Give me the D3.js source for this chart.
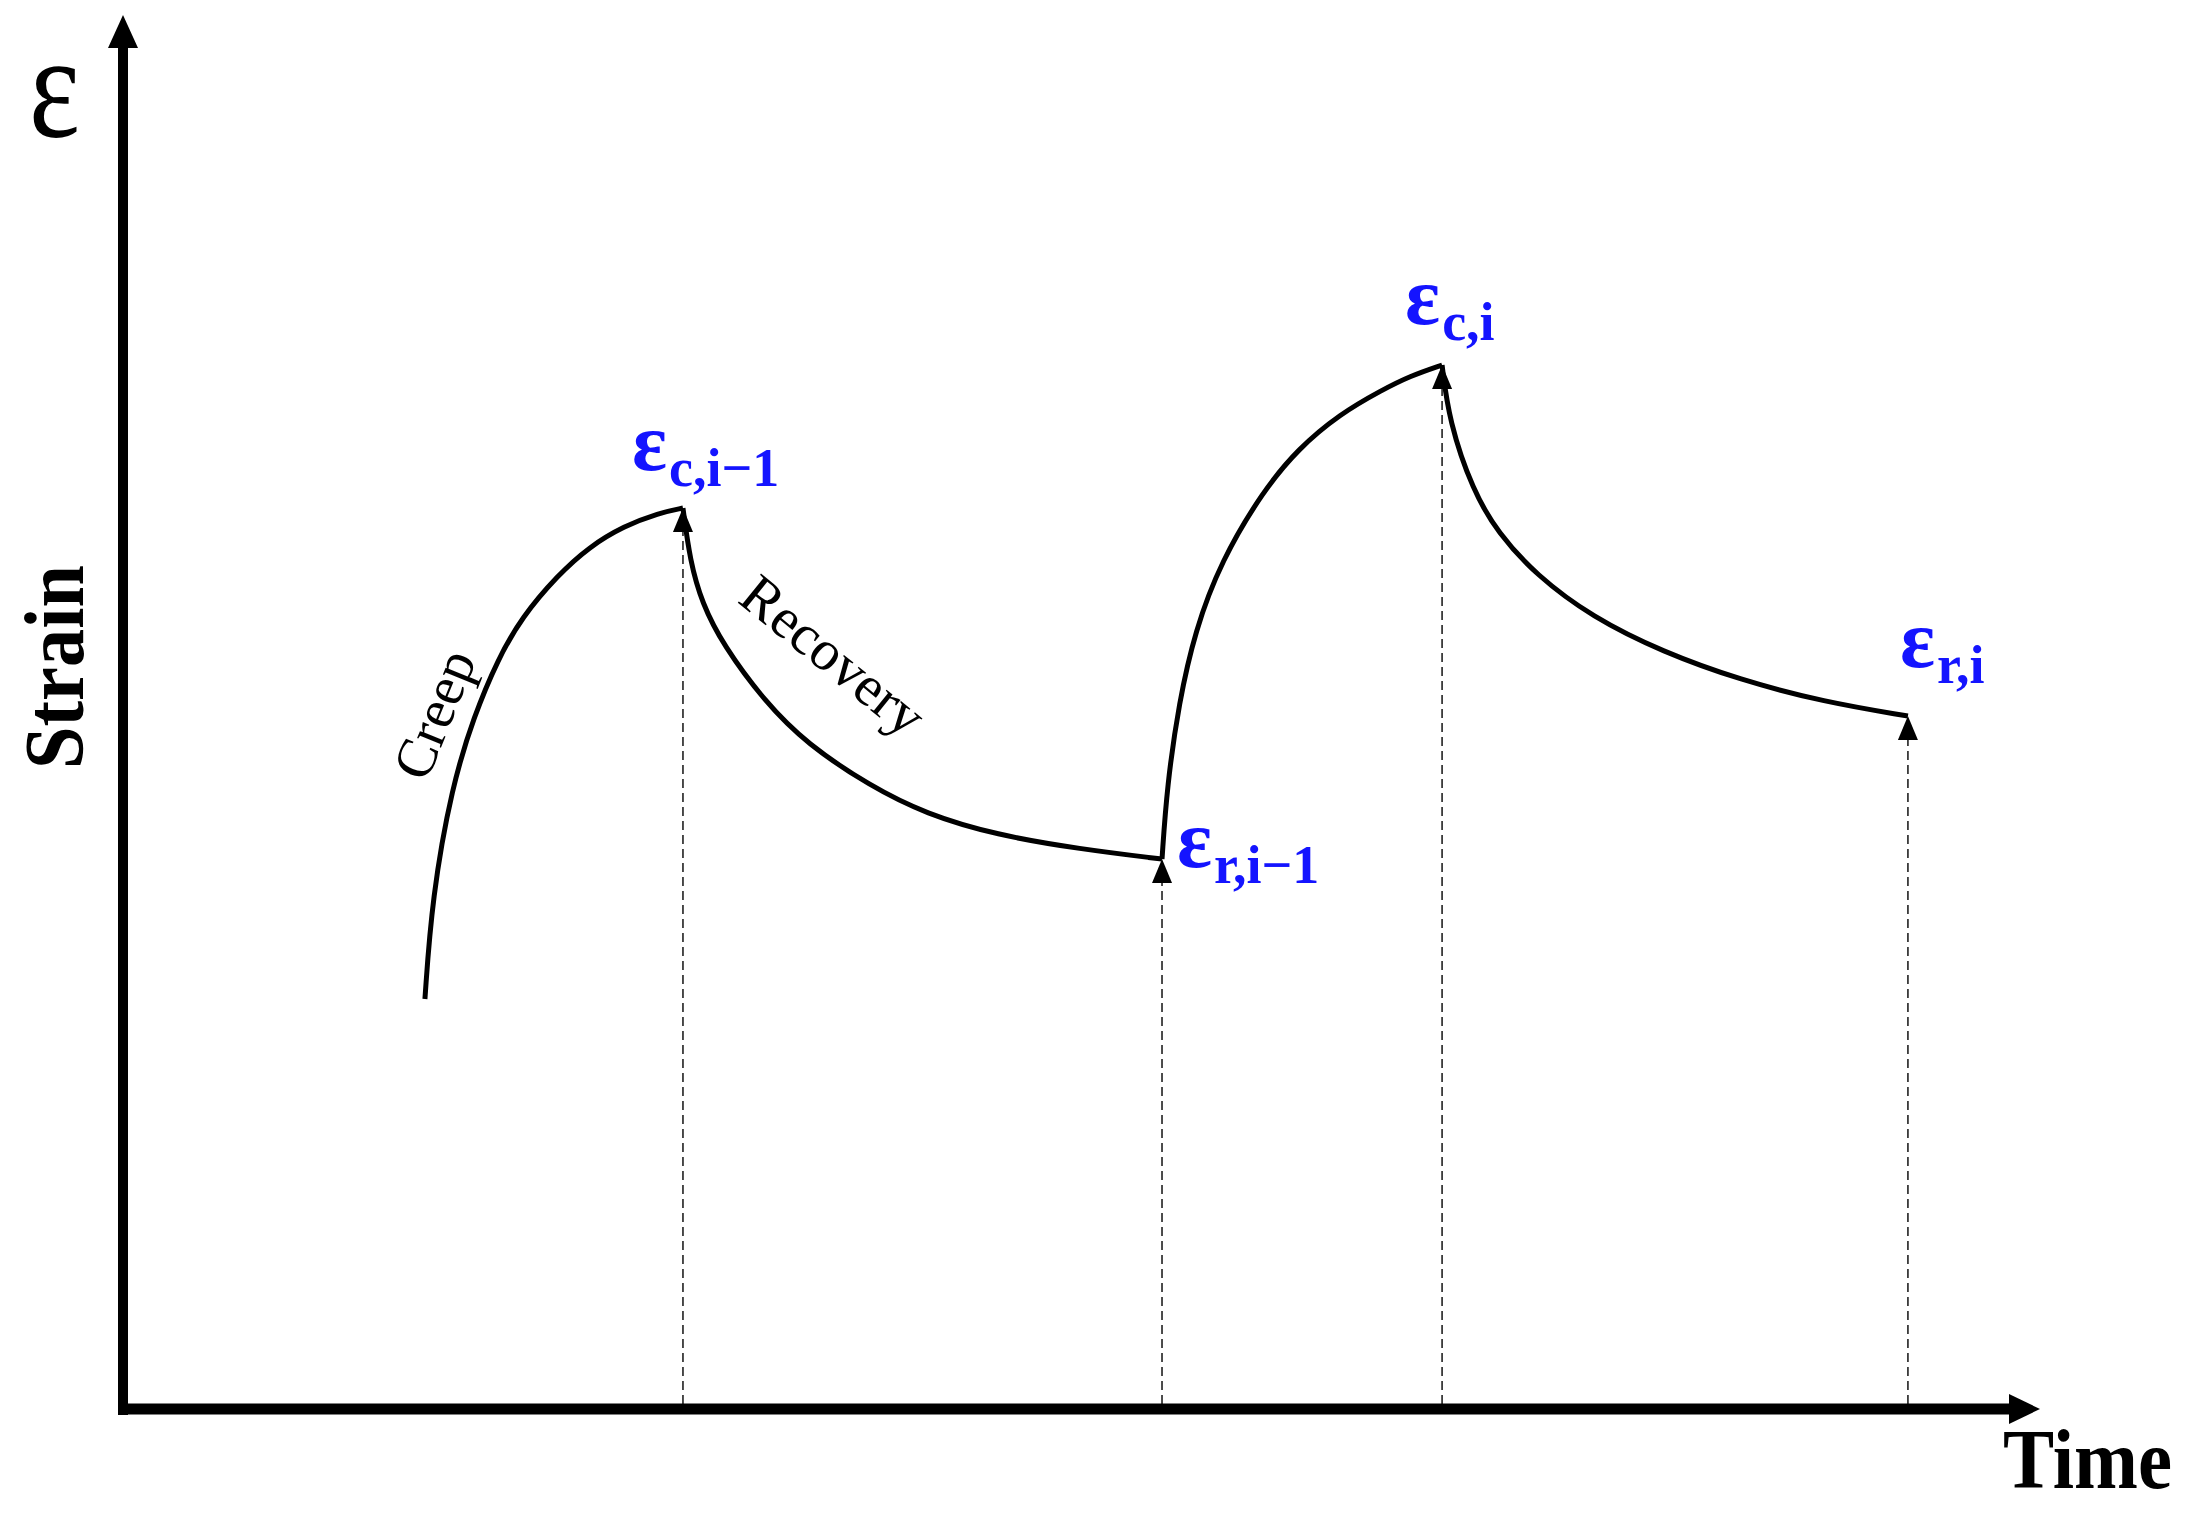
<!DOCTYPE html>
<html>
<head>
<meta charset="utf-8">
<script src="https://cdn.jsdelivr.net/npm/d3@7"></script>
<style>
  html, body { margin: 0; padding: 0; background: #fff; }
  svg { display: block; }
</style>
</head>
<body>
<script>
// ---------------- data (time, strain in arbitrary units 0..100) ----------------
const creep1Time   = [15.75, 16.12, 17.16, 18.31, 19.56, 20.81, 22.69, 24.31, 26.13, 27.96, 29.21];
const creep1Strain = [29.41, 36.66, 44.69, 49.71, 53.80, 56.81, 59.83, 61.84, 63.34, 64.28, 64.63];
const recov1Time   = [29.21, 29.58, 30.20, 31.30, 33.49, 35.68, 38.97, 41.89, 45.54, 49.92, 54.20];
const recov1Strain = [64.63, 60.83, 57.82, 54.81, 50.72, 47.70, 44.69, 42.68, 41.18, 40.17, 39.45];
const creep2Time   = [54.20, 54.46, 55.09, 55.92, 57.28, 59.47, 61.29, 63.48, 65.68, 67.14, 68.81];
const creep2Strain = [39.45, 44.69, 50.72, 55.81, 60.83, 65.85, 68.87, 71.38, 73.10, 74.10, 74.89];
const recov2Time   = [68.81, 69.17, 70.42, 71.73, 73.71, 76.63, 80.33, 84.35, 88.73, 93.11];
const recov2Strain = [74.89, 70.88, 65.85, 62.84, 59.83, 56.81, 54.30, 52.30, 50.72, 49.71];

const markTime   = [29.21, 54.20, 68.81, 93.11];
const markStrain = [64.63, 39.45, 74.89, 49.71];
const markMain   = ["ε", "ε", "ε", "ε"];
const markSub    = ["c,i−1", "r,i−1", "c,i", "r,i"];

const xTitle = "Time";
const yTitle = "Strain";
const ySymbol = "ε";
const phaseLabels = ["Creep", "Recovery"];

// ---------------- layout ----------------
const W = 2200, H = 1524;
const svg = d3.select("body").append("svg").attr("width", W).attr("height", H);

const x = d3.scaleLinear().domain([0, 100]).range([123, 2040]);
const y = d3.scaleLinear().domain([0, 100]).range([1409, 15]);

const serif = "'Liberation Serif', 'Times New Roman', serif";

// dashed guide lines
const guides = svg.append("g");
markTime.forEach((t, i) => {
  guides.append("line")
    .attr("x1", x(t)).attr("x2", x(t))
    .attr("y1", y(0) - 5).attr("y2", y(markStrain[i]) + 22)
    .attr("stroke", "#3a3a3a").attr("stroke-width", 1.8)
    .attr("stroke-dasharray", "9,5");
});

// axes
const axes = svg.append("g");
axes.append("line")
  .attr("x1", x(0)).attr("x2", x(0))
  .attr("y1", y(0) + 6).attr("y2", y(100) + 30)
  .attr("stroke", "#000").attr("stroke-width", 10);
axes.append("path")
  .attr("d", `M${x(0)},${y(100)} L${x(0) + 15},${y(100) + 33} L${x(0) - 15},${y(100) + 33} Z`)
  .attr("fill", "#000");
axes.append("line")
  .attr("x1", x(0) - 5).attr("x2", x(100) - 30)
  .attr("y1", y(0)).attr("y2", y(0))
  .attr("stroke", "#000").attr("stroke-width", 11);
axes.append("path")
  .attr("d", `M${x(100)},${y(0)} L${x(100) - 31},${y(0) - 15} L${x(100) - 31},${y(0) + 15} Z`)
  .attr("fill", "#000");

// curves
const line = d3.line()
  .x(d => x(d[0])).y(d => y(d[1]))
  .curve(d3.curveBasis);
const segments = [
  [creep1Time, creep1Strain],
  [recov1Time, recov1Strain],
  [creep2Time, creep2Strain],
  [recov2Time, recov2Strain]
];
svg.append("g").selectAll("path")
  .data(segments.map(([ts, ss]) => ts.map((t, i) => [t, ss[i]])))
  .join("path")
  .attr("d", line)
  .attr("fill", "none")
  .attr("stroke", "#000")
  .attr("stroke-width", 5)
  .attr("stroke-linejoin", "round");

// small arrowheads at the marked points
markTime.forEach((t, i) => {
  const px = x(t), py = y(markStrain[i]);
  svg.append("path")
    .attr("d", `M${px},${py} L${px + 10},${py + 24} L${px - 10},${py + 24} Z`)
    .attr("fill", "#000");
});

// blue labels (offsets relative to the marked point)
const labelOffset = [[-51, -38], [15, 8], [-37, -41], [-8, -49]];
markTime.forEach((t, i) => {
  const px = x(t) + labelOffset[i][0], py = y(markStrain[i]) + labelOffset[i][1];
  const tx = svg.append("text")
    .attr("x", px).attr("y", py)
    .attr("font-family", serif).attr("font-weight", "bold")
    .attr("fill", "#1414ff").attr("font-size", 82);
  tx.append("tspan").text(markMain[i]);
  tx.append("tspan").attr("font-size", 54).attr("dy", 16).attr("dx", 2).text(markSub[i]);
});

// phase labels
svg.append("text")
  .attr("transform", "translate(436,715) rotate(-68)")
  .attr("text-anchor", "middle").attr("dy", "0.3em")
  .attr("font-family", serif).attr("font-size", 56)
  .text(phaseLabels[0]);
svg.append("text")
  .attr("transform", "translate(832,657) rotate(39)")
  .attr("text-anchor", "middle").attr("dy", "0.3em")
  .attr("font-family", serif).attr("font-size", 57)
  .text(phaseLabels[1]);

// axis titles
svg.append("text")
  .attr("x", 2003).attr("y", 1488)
  .attr("font-family", serif).attr("font-weight", "bold")
  .attr("font-size", 84)
  .attr("textLength", 169).attr("lengthAdjust", "spacingAndGlyphs")
  .text(xTitle);
svg.append("text")
  .attr("transform", "translate(83,769) rotate(-90)")
  .attr("font-family", serif).attr("font-weight", "bold")
  .attr("font-size", 84)
  .attr("textLength", 204).attr("lengthAdjust", "spacingAndGlyphs")
  .text(yTitle);
svg.append("text")
  .attr("x", 29).attr("y", 137)
  .attr("font-family", serif)
  .attr("font-size", 148)
  .attr("textLength", 51).attr("lengthAdjust", "spacingAndGlyphs")
  .text(ySymbol);
</script>
</body>
</html>
